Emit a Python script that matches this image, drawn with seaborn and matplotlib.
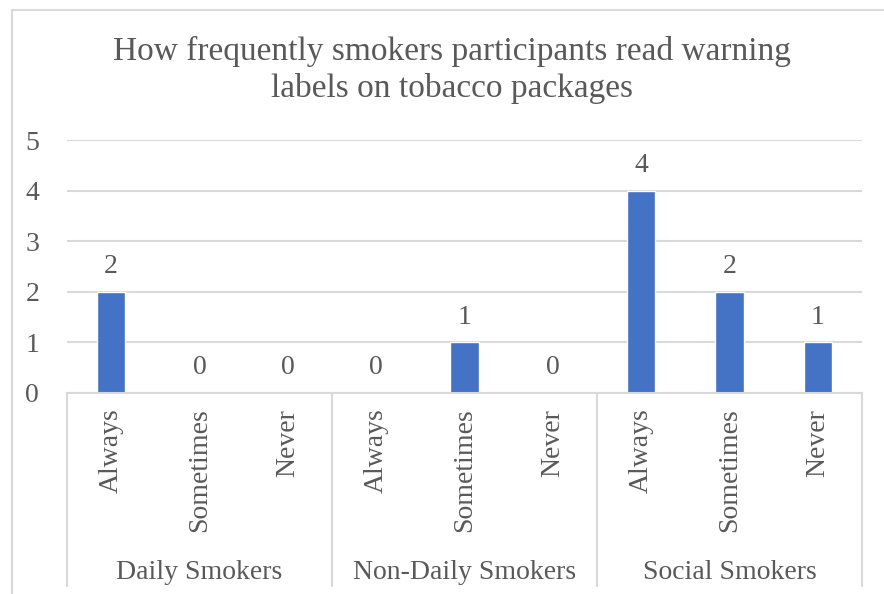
import matplotlib
matplotlib.use("Agg")
import matplotlib.pyplot as plt
import matplotlib.lines as mlines
import matplotlib.transforms as mtransforms
import seaborn as sns
import pandas as pd

# Data
groups = ["Daily Smokers", "Non-Daily Smokers", "Social Smokers"]
frequencies = ["Always", "Sometimes", "Never"]
counts = [2, 0, 0, 0, 1, 0, 4, 2, 1]
title = "How frequently smokers participants read warning\nlabels on tobacco packages"

rows = []
for gi, g in enumerate(groups):
    for fi, f in enumerate(frequencies):
        rows.append({"group": g, "freq": f, "key": f"{g}|{f}", "count": counts[gi * 3 + fi]})
df = pd.DataFrame(rows)

sns.set_theme(style="white")
plt.rcParams["font.family"] = ["Liberation Serif", "DejaVu Serif"]

TEXT = "#595959"
GRID = "#D9D9D9"
BAR = "#4472C4"
FS = 20

W, H = 884, 594
fig = plt.figure(figsize=(W / 100, H / 100), dpi=100)
ax = fig.add_axes([67 / W, (H - 393) / H, (862 - 67) / W, (393 - 140) / H])

sns.barplot(data=df, x="key", y="count", order=list(df["key"]), color=BAR,
            width=0.32, saturation=1, ax=ax, zorder=3)

ax.set_xlim(-0.5, len(df) - 0.5)
ax.set_ylim(0, 5)
ax.set_yticks(range(0, 6))
ax.yaxis.grid(True, color=GRID, lw=1.5, zorder=0)
for s in ax.spines.values():
    s.set_visible(False)
ax.tick_params(axis="y", length=0, labelsize=FS, labelcolor=TEXT, pad=20)
ax.set_xticks([])
ax.set_xlabel("")
ax.set_ylabel("")

# Value labels above the bars
for i, v in enumerate(df["count"]):
    ax.annotate(f"{v}", (i, v), xytext=(0, 9), textcoords="offset points",
                ha="center", va="bottom", fontsize=FS, color=TEXT)

# Two-level category axis
trans = mtransforms.blended_transform_factory(ax.transData, ax.transAxes)
ax.plot([-0.5, len(df) - 0.5], [0, 0], color=GRID, lw=1.5, transform=trans,
        clip_on=False, zorder=4)
for xb in [-0.5, 2.5, 5.5, 8.5]:
    ax.plot([xb, xb], [0, -0.763], color=GRID, lw=1.5, transform=trans, clip_on=False)
for i, f in enumerate(df["freq"]):
    ax.text(i, -0.062, f, rotation=90, ha="center", va="top", fontsize=FS,
            color=TEXT, transform=trans)
for gi, g in enumerate(groups):
    ax.text(gi * 3 + 1, -0.71, g, ha="center", va="center", fontsize=FS,
            color=TEXT, transform=trans)

fig.text(0.511, (H - 70) / H, title, ha="center", va="center", fontsize=24,
         color=TEXT, linespacing=1.25)

# Chart frame (top and left edges fall inside the canvas)
x0, y0 = 12 / W, (H - 10) / H
fig.add_artist(mlines.Line2D([x0, 1.0], [y0, y0], transform=fig.transFigure,
                             color=GRID, lw=1.5))
fig.add_artist(mlines.Line2D([x0, x0], [0.0, y0], transform=fig.transFigure,
                             color=GRID, lw=1.5))

fig.savefig("out.png", dpi=100)
